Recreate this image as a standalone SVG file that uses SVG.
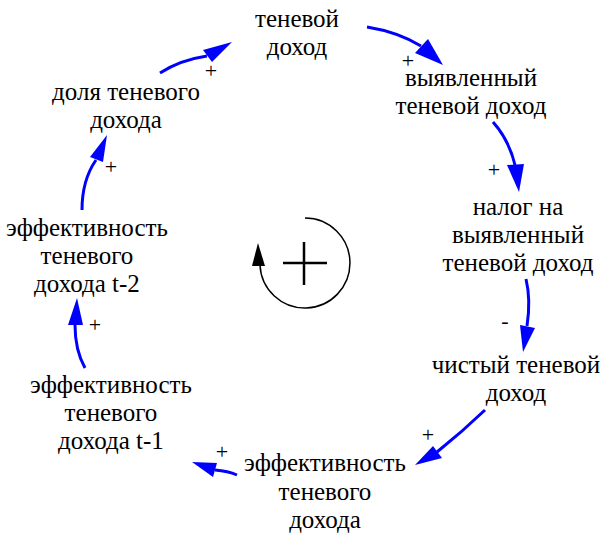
<svg xmlns="http://www.w3.org/2000/svg" width="603" height="536" viewBox="0 0 603 536">
<style>
.t{font-family:"Liberation Serif","Times New Roman",serif;font-size:25px;fill:#000;text-anchor:middle}
.s{font-family:"Liberation Serif","Times New Roman",serif;font-size:22px;fill:#000;text-anchor:middle}
.c{fill:none;stroke:#0000ff;stroke-width:3}
.h{fill:#0000ff;stroke:none}
</style>
<rect width="603" height="536" fill="#fff"/>
<g id="n1"><text class="t" x="297" y="27">теневой</text><text class="t" x="297" y="55">доход</text></g>
<g id="n2"><text class="t" x="471" y="86">выявленный</text><text class="t" x="471" y="114">теневой доход</text></g>
<g id="n3"><text class="t" x="518" y="215">налог на</text><text class="t" x="518" y="243">выявленный</text><text class="t" x="518" y="271">теневой доход</text></g>
<g id="n4"><text class="t" x="516" y="373">чистый теневой</text><text class="t" x="516" y="401">доход</text></g>
<g id="n5"><text class="t" x="325" y="471">эффективность</text><text class="t" x="325" y="500">теневого</text><text class="t" x="325" y="528">дохода</text></g>
<g id="n6"><text class="t" x="111" y="393">эффективность</text><text class="t" x="111" y="421">теневого</text><text class="t" x="111" y="449">дохода t-1</text></g>
<g id="n7"><text class="t" x="87" y="236">эффективность</text><text class="t" x="87" y="264">теневого</text><text class="t" x="87" y="292">дохода t-2</text></g>
<g id="n8"><text class="t" x="126" y="100">доля теневого</text><text class="t" x="126" y="128">дохода</text></g>
<g id="connectors">
<path class="c" d="M160,73 Q180,60 207,56"/><polygon class="h" points="232,42 203,50 212,62"/>
<path class="c" d="M367,27 Q398,32 421,46"/><polygon class="h" points="443,65 428,39 415,53"/>
<path class="c" d="M493,122 Q509,140 515,165"/><polygon class="h" points="519,192 507,165 524,164"/>
<path class="c" d="M526,279 Q531,300 527,326"/><polygon class="h" points="523,352 520,325 535,328"/>
<path class="c" d="M485,410 Q462,432 437,452"/><polygon class="h" points="415,465 433,446 442,458"/>
<path class="c" d="M237,475 Q228,471 215,470"/><polygon class="h" points="192,462 217,463 213,477"/>
<path class="c" d="M85,368 Q75,350 75,325"/><polygon class="h" points="77,298 68,325 83,325"/>
<path class="c" d="M82,210 Q82,180 96,160"/><polygon class="h" points="107,135 90,157 103,162"/>
<text class="s" x="211" y="78">+</text>
<text class="s" x="408" y="68">+</text>
<text class="s" x="494" y="177">+</text>
<text class="s" x="505" y="328">-</text>
<text class="s" x="428" y="442">+</text>
<text class="s" x="222" y="459">+</text>
<text class="s" x="95" y="332">+</text>
<text class="s" x="111" y="174">+</text>
</g>
<g id="loop">
<path d="M305,218 A45,45 0 1 1 260,265" fill="none" stroke="#000" stroke-width="1.5"/>
<polygon points="258,243 252,266 265,266" fill="#000"/>
<path d="M283,263 H327 M304,242 V285" stroke="#000" stroke-width="2.5" fill="none"/>
</g>
</svg>
